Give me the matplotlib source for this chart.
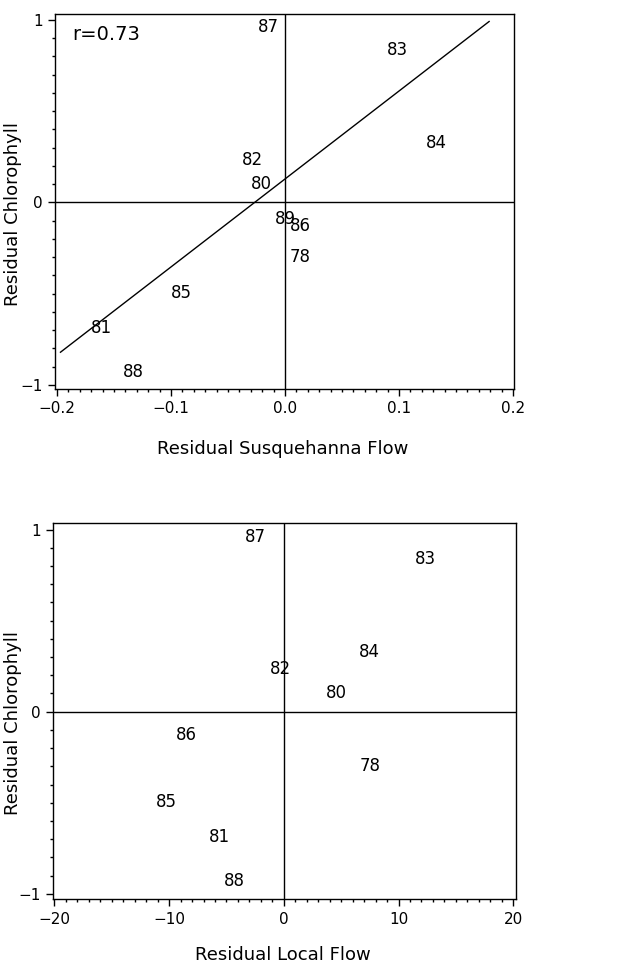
import matplotlib.pyplot as plt
import numpy as np
from matplotlib.ticker import MultipleLocator

plt.rcParams["font.family"] = ["DejaVu Sans"]

# years used as point labels
years = ["87", "83", "84", "82", "80", "89", "86", "78", "85", "81", "88"]
# residual chlorophyll (shared by both panels)
chl = [0.96, 0.837, 0.327, 0.234, 0.100, -0.089, -0.130, -0.300, -0.495, -0.689, -0.930]
# residual Susquehanna flow
susq = [-0.0143, 0.0989, 0.1325, -0.0284, -0.021, 0.0003, 0.0134, 0.0134, -0.0906, -0.1608, -0.1327]
# residual local flow (no label for 89 in the lower panel)
local = [-2.5, 12.32, 7.44, -0.26, 4.56, np.nan, -8.52, 7.52, -10.2, -5.61, -4.31]

# fitted line in the upper panel
fit_slope = 4.82
fit_intercept = 0.129
fit_x = [-0.197, 0.179]
r_text = "r=0.73"


def style_axes(ax, xmajor, xminor):
    ax.xaxis.set_major_locator(MultipleLocator(xmajor))
    ax.xaxis.set_minor_locator(MultipleLocator(xminor))
    ax.yaxis.set_major_locator(MultipleLocator(1))
    ax.yaxis.set_minor_locator(MultipleLocator(0.1))
    ax.tick_params(which="major", direction="out", length=5, width=1, labelsize=11, pad=4)
    ax.tick_params(which="minor", direction="out", length=2, width=1)
    ax.tick_params(top=False, right=False)
    for s in ax.spines.values():
        s.set_linewidth(1)
    ax.axhline(0, color="black", linewidth=1)
    ax.axvline(0, color="black", linewidth=1)


fig = plt.figure(figsize=(6.28, 9.64), dpi=100)

ax1 = fig.add_axes([0.0876, 0.5965, 0.731, 0.389])
style_axes(ax1, 0.1, 0.01)
ax1.set_xlim(-0.2018, 0.2009)
ax1.set_ylim(-1.022, 1.033)
ax1.set_xticks([-0.2, -0.1, 0.0, 0.1, 0.2])
ax1.set_xticklabels(["\u22120.2", "\u22120.1", "0.0", "0.1", "0.2"])
ax1.set_yticks([-1, 0, 1])
ax1.set_yticklabels(["\u22121", "0", "1"])
for yr, x, y in zip(years, susq, chl):
    ax1.text(x, y, yr, ha="center", va="center", fontsize=12)
fx = np.array(fit_x)
ax1.plot(fx, fit_intercept + fit_slope * fx, color="black", linewidth=1)
ax1.text(0.037, 0.944, r_text, transform=ax1.transAxes, ha="left", va="center", fontsize=14)
ax1.set_xlabel("Residual Susquehanna Flow", fontsize=13)
ax1.set_ylabel("Residual Chlorophyll", fontsize=13)
ax1.xaxis.set_label_coords(0.497, -0.136)
ax1.yaxis.set_label_coords(-0.072, 0.467)

ax2 = fig.add_axes([0.0849, 0.0671, 0.737, 0.390])
style_axes(ax2, 10, 1)
ax2.set_xlim(-20.09, 20.25)
ax2.set_ylim(-1.030, 1.034)
ax2.set_xticks([-20, -10, 0, 10, 20])
ax2.set_xticklabels(["\u221220", "\u221210", "0", "10", "20"])
ax2.set_yticks([-1, 0, 1])
ax2.set_yticklabels(["\u22121", "0", "1"])
for yr, x, y in zip(years, local, chl):
    if np.isnan(x):
        continue
    ax2.text(x, y, yr, ha="center", va="center", fontsize=12)
ax2.set_xlabel("Residual Local Flow", fontsize=13)
ax2.set_ylabel("Residual Chlorophyll", fontsize=13)
ax2.xaxis.set_label_coords(0.497, -0.125)
ax2.yaxis.set_label_coords(-0.068, 0.470)

plt.savefig("out.png", dpi=100)
plt.close()
